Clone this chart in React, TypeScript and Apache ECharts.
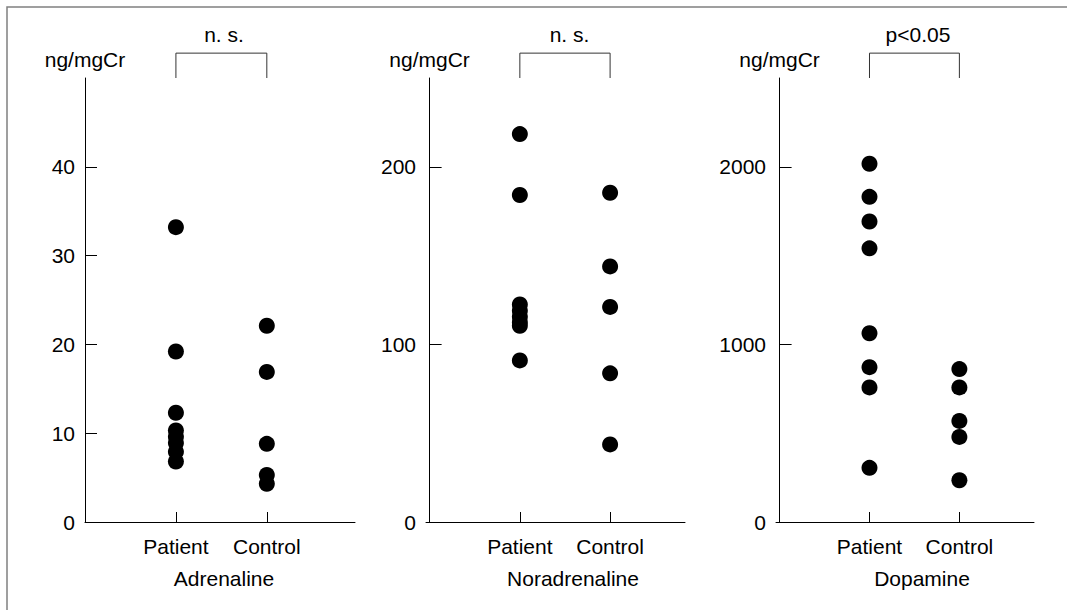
import React, { useEffect, useRef } from "react";
import * as echarts from "echarts";

const categories = ["Patient", "Control"];
const panelTitles = ["Adrenaline", "Noradrenaline", "Dopamine"];
const significance = ["n. s.", "n. s.", "p<0.05"];
const unitLabel = "ng/mgCr";

const adrenalinePatient = [33.2, 19.2, 12.3, 10.3, 9.6, 8.9, 7.9, 6.8];
const adrenalineControl = [22.1, 16.9, 8.8, 5.3, 4.3];
const noradrenalinePatient = [218.4, 184.1, 122.5, 119, 115.5, 112.5, 110.5, 91];
const noradrenalineControl = [185.4, 143.9, 121.1, 83.7, 43.7];
const dopaminePatient = [2017, 1831, 1692, 1541, 1063, 872, 758, 305];
const dopamineControl = [861, 758, 569, 479, 235];

const yMax = [50, 250, 2500];
const yStep = [10, 100, 1000];

const FONT = "'Liberation Sans', Arial, Helvetica, sans-serif";
const FS = 21;

export default function App() {
  const ref = useRef<HTMLDivElement>(null);
  useEffect(() => {
    if (!ref.current) return;
    const chart = echarts.init(ref.current, undefined, { renderer: "svg" });
    const groups = [
      [adrenalinePatient, adrenalineControl],
      [noradrenalinePatient, noradrenalineControl],
      [dopaminePatient, dopamineControl],
    ];
    const grids = [
      { left: 85, width: 270, top: 78, height: 444 },
      { left: 426, width: 259, top: 78, height: 444 },
      { left: 776, width: 258, top: 78, height: 444 },
    ];
    const xRanges = [
      [0, 2.97],
      [-0.04, 2.83],
      [-0.04, 2.83],
    ];
    const titleX = [224, 573, 922];
    const sigX = [224, 569.5, 918];

    const xAxis: any[] = [];
    const yAxis: any[] = [];
    const series: any[] = [];
    grids.forEach((g, i) => {
      const ticks: number[] = [];
      for (let v = 0; v < yMax[i]; v += yStep[i]) ticks.push(v);
      xAxis.push({
        type: "value",
        gridIndex: i,
        min: xRanges[i][0],
        max: xRanges[i][1],
        splitLine: { show: false },
        axisLine: { lineStyle: { color: "#000", width: 1 } },
        axisTick: {
          inside: true,
          length: 10,
          customValues: [1, 2],
          lineStyle: { color: "#000" },
        },
        axisLabel: {
          customValues: [1, 2],
          formatter: (v: number) => categories[Math.round(v) - 1] || "",
          color: "#000",
          fontSize: FS,
          fontFamily: FONT,
          margin: 14,
        },
      });
      yAxis.push({
        type: "value",
        gridIndex: i,
        min: 0,
        max: yMax[i],
        interval: yStep[i],
        name: unitLabel,
        nameLocation: "end",
        nameGap: 8,
        nameTextStyle: { color: "#000", fontSize: FS, fontFamily: FONT },
        splitLine: { show: false },
        axisLine: { show: true, lineStyle: { color: "#000", width: 1 } },
        axisTick: {
          show: true,
          inside: true,
          length: 12,
          customValues: ticks,
          lineStyle: { color: "#000" },
        },
        axisLabel: {
          customValues: ticks,
          formatter: (v: number) => String(v),
          color: "#000",
          fontSize: FS,
          fontFamily: FONT,
          margin: 10,
        },
      });
      groups[i].forEach((vals, ci) => {
        series.push({
          type: "scatter",
          xAxisIndex: i,
          yAxisIndex: i,
          symbol: "circle",
          symbolSize: 16,
          itemStyle: { color: "#000", opacity: 1 },
          data: vals.map((v) => [ci + 1, v]),
          silent: true,
        });
      });
      const top = yMax[i] * 1.056;
      series.push({
        type: "line",
        xAxisIndex: i,
        yAxisIndex: i,
        clip: false,
        symbol: "none",
        silent: true,
        lineStyle: { color: "#333", width: 1 },
        data: [
          [1, yMax[i]],
          [1, top],
          [2, top],
          [2, yMax[i]],
        ],
      });
    });

    const texts: any[] = [];
    panelTitles.forEach((t, i) => {
      texts.push({
        type: "text",
        x: titleX[i],
        y: 578,
        style: {
          text: t,
          fill: "#000",
          font: `${FS}px ${FONT}`,
          align: "center",
          verticalAlign: "middle",
          textAlign: "center",
          textVerticalAlign: "middle",
        },
      });
      texts.push({
        type: "text",
        x: sigX[i],
        y: 34,
        style: {
          text: significance[i],
          fill: "#000",
          font: `${FS}px ${FONT}`,
          align: "center",
          verticalAlign: "middle",
          textAlign: "center",
          textVerticalAlign: "middle",
        },
      });
    });

    chart.setOption({
      animation: false,
      backgroundColor: "#fff",
      grid: grids,
      xAxis,
      yAxis,
      series,
      graphic: [
        {
          type: "rect",
          shape: { x: 7, y: 7, width: 1200, height: 800 },
          style: { fill: "none", stroke: "#808080", lineWidth: 1.5 },
          silent: true,
        },
        ...texts,
      ],
    });
    return () => chart.dispose();
  }, []);
  return (
    <div
      ref={ref}
      style={{ position: "fixed", left: 0, top: 0, width: 1067, height: 610 }}
    />
  );
}
